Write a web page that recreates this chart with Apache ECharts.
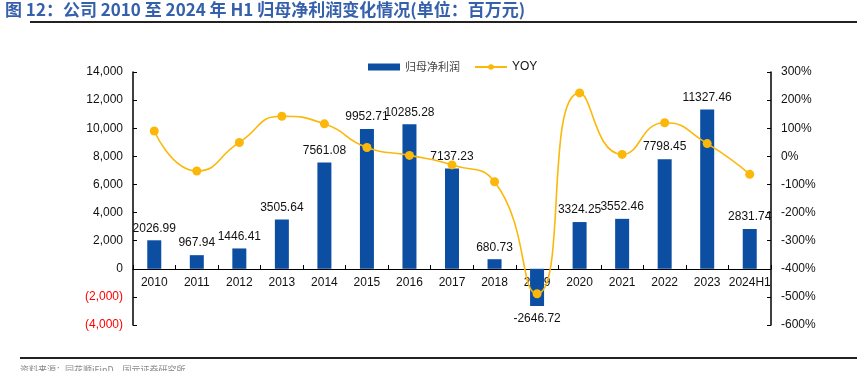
<!DOCTYPE html>
<html><head><meta charset="utf-8">
<script src="https://cdn.jsdelivr.net/npm/echarts@6/dist/echarts.min.js"></script>
<style>html,body{margin:0;padding:0;background:#fff}#c{width:857px;height:371px}</style>
</head><body><div id="c"></div>
<script>
const categories = ['2010','2011','2012','2013','2014','2015','2016','2017','2018','2019','2020','2021','2022','2023','2024H1'];
const profit = [2026.99, 967.94, 1446.41, 3505.64, 7561.08, 9952.71, 10285.28, 7137.23, 680.73, -2646.72, 3324.25, 3552.46, 7798.45, 11327.46, 2831.74];
const yoy = [90, -52.2, 49.4, 142.4, 115.7, 31.6, 3.3, -30.6, -90.5, -488.8, 225.6, 6.9, 119.5, 45.3, -64];
const titleText = '图 12：公司 2010 至 2024 年 H1 归母净利润变化情况(单位：百万元)';
const sourceText = '资料来源：同花顺iFinD，国元证券研究所';

const chart = echarts.init(document.getElementById('c'), null, {renderer:'canvas'});
const font = 'Liberation Sans, Arial, sans-serif';
chart.setOption({
  animation:false,
  textStyle:{fontFamily:font},
  graphic:[
    {type:'text', left:5, top:1, style:{text:titleText, fill:'#3560ab', font:'bold 17px "Noto Sans CJK SC", sans-serif'}},
    {type:'rect', shape:{x:30,y:21,width:827,height:2}, style:{fill:'#222'}},
    {type:'rect', shape:{x:20,y:357,width:837,height:2}, style:{fill:'#222'}},
    {type:'text', left:20, top:365, style:{text:sourceText, fill:'#888', font:'9px "Noto Sans CJK SC", sans-serif'}}
  ],
  legend:{
    top:56, left:363, itemGap:14, itemWidth:32, itemHeight:7,
    textStyle:{fontSize:11, color:'#444', fontFamily:'"Noto Sans CJK SC", Liberation Sans, sans-serif'},
    data:[{name:'归母净利润', icon:'rect'},{name:'YOY', textStyle:{fontSize:12, color:'#111', fontFamily:font}}]
  },
  grid:{left:133, right:86, top:72, bottom:46},
  xAxis:{
    type:'category', data:categories, position:'bottom', offset:-56,
    axisLine:{onZero:false, lineStyle:{color:'#000', width:1}},
    axisTick:{show:true, inside:true, length:4, alignWithLabel:false, lineStyle:{color:'#000'}},
    axisLabel:{color:'#111', fontSize:12, margin:8, interval:0}
  },
  yAxis:[
    {type:'value', min:-4000, max:14000, interval:2000,
     axisLine:{show:true, lineStyle:{color:'#000', width:1.5}},
     axisTick:{show:true, inside:true, length:4, lineStyle:{color:'#000'}},
     splitLine:{show:false},
     axisLabel:{fontSize:12, margin:10,
       formatter:function(v){var s=Math.abs(v).toLocaleString('en-US'); return v<0?'{n|('+s+')}':s;},
       color:'#111', rich:{n:{color:'#ff0000', fontSize:12}}}
    },
    {type:'value', min:-600, max:300, interval:100,
     axisLine:{show:true, lineStyle:{color:'#000', width:1.5}},
     axisTick:{show:true, inside:true, length:4, lineStyle:{color:'#000'}},
     splitLine:{show:false},
     axisLabel:{fontSize:12, margin:10, color:'#111', formatter:'{value}%'}
    }
  ],
  series:[
    {name:'归母净利润', type:'bar', barWidth:14, itemStyle:{color:'#0b4ea2'},
     data: profit.map(v => v < 0 ? {value:v, label:{position:'bottom', distance:7}} : v),
     label:{show:true, position:'top', color:'#111', fontSize:12, distance:6,
       formatter:function(p){return p.value.toFixed(2);}}
    },
    {name:'YOY', type:'line', yAxisIndex:1, data:yoy, smooth:0.55, symbol:'circle', symbolSize:9,
     itemStyle:{color:'#fbb80a'}, lineStyle:{color:'#fbb80a', width:1.6}, z:5}
  ]
});
</script></body></html>
